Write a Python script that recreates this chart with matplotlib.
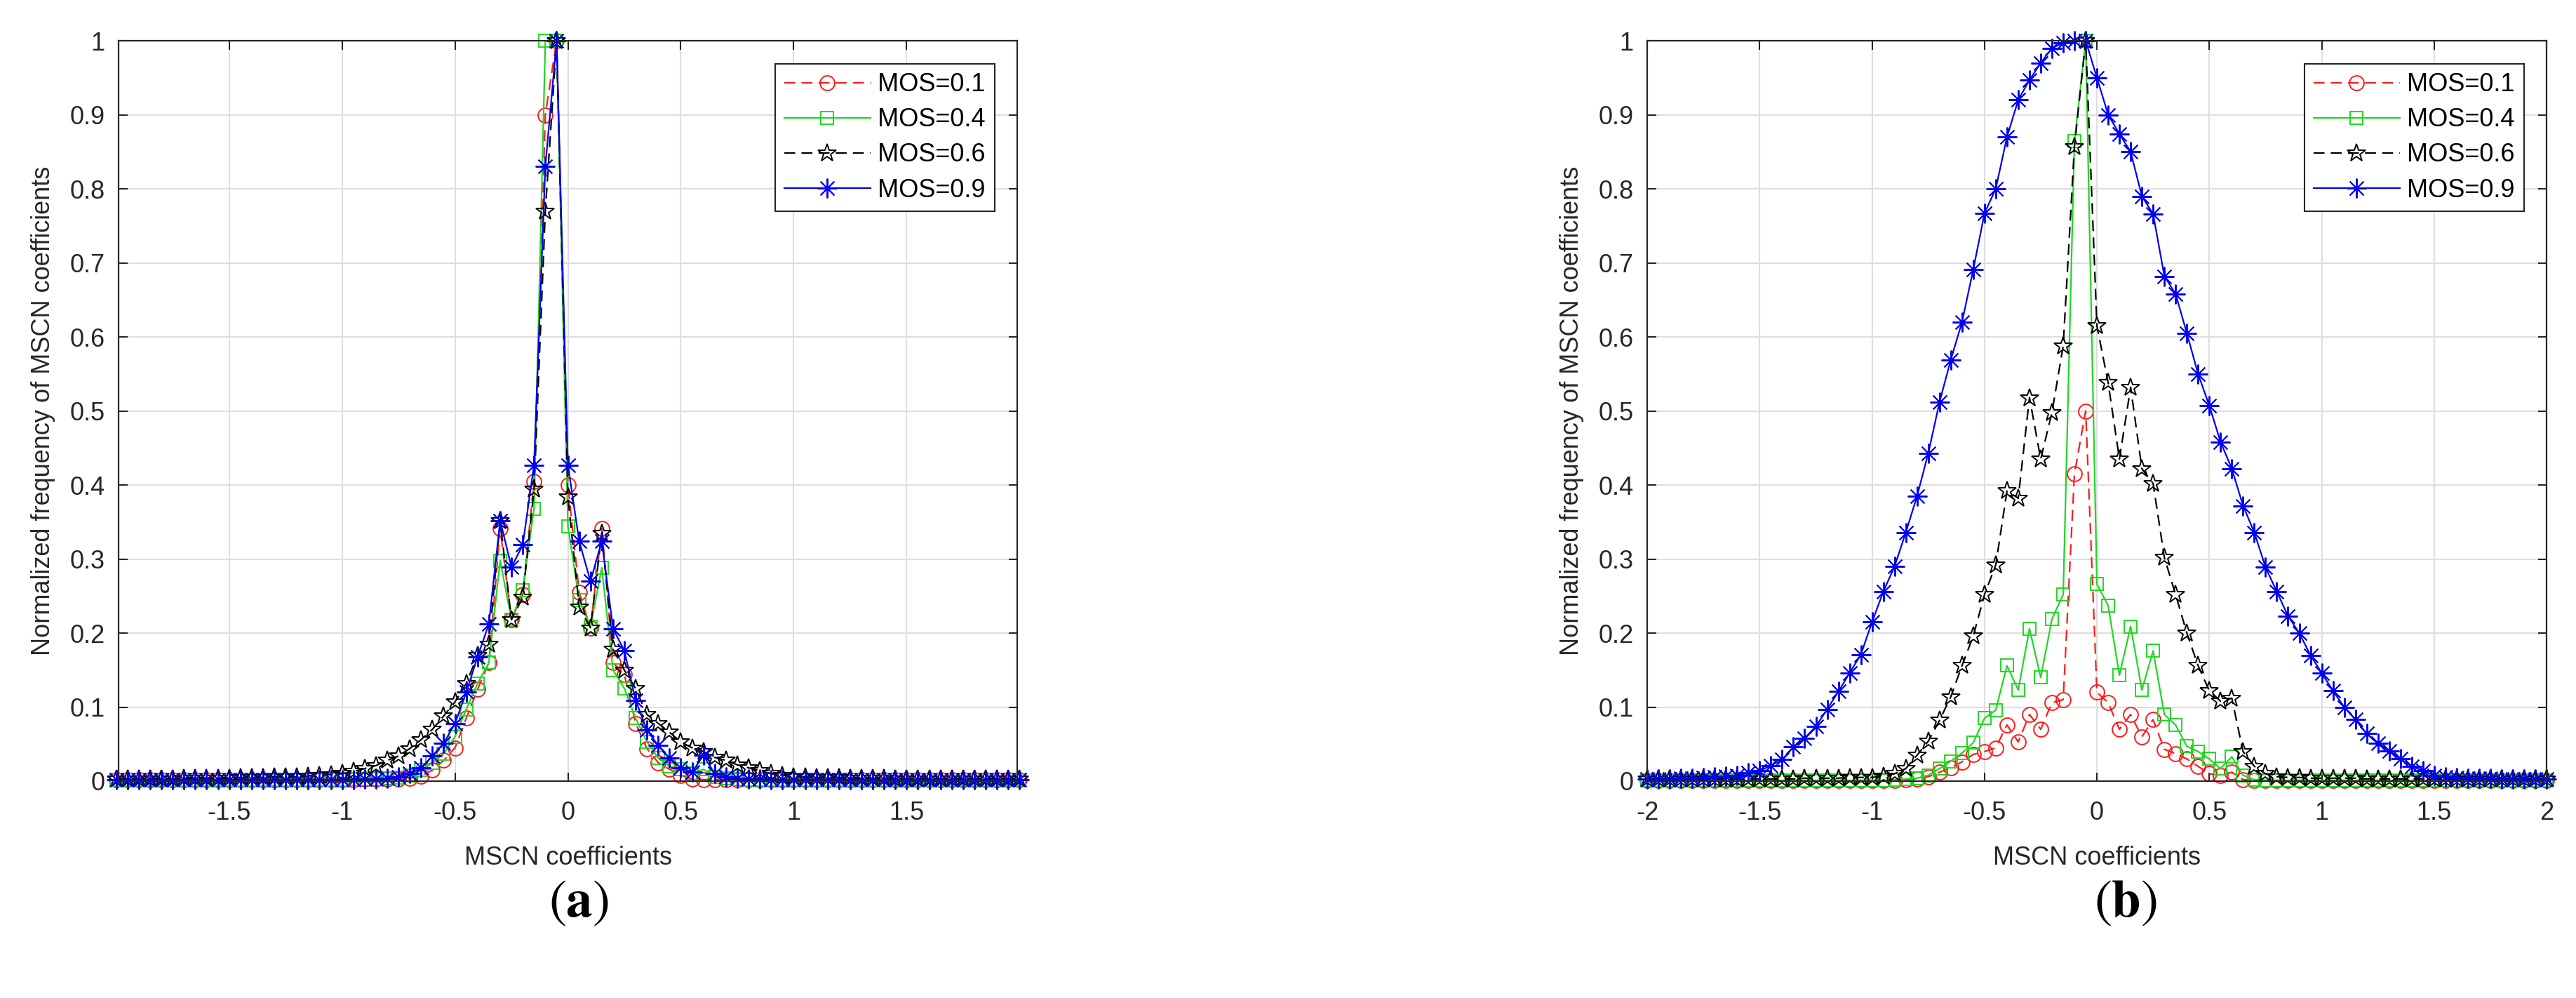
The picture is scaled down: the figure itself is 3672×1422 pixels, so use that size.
import numpy as np
import matplotlib
matplotlib.use("Agg")
import matplotlib.pyplot as plt
from matplotlib.ticker import FormatStrFormatter

plt.rcParams['font.family'] = ['Liberation Sans', 'DejaVu Sans']

# MSCN coefficient bins (-2 .. 2, step 0.05)
mscn = np.linspace(-2, 2, 81)
labels = ['MOS=0.1', 'MOS=0.4', 'MOS=0.6', 'MOS=0.9']

# (a) normalized frequency, one row = 0.5 on the x axis
a_mos01 = [0.002] * 20 + [
    0.002, 0.002, 0.003, 0.003, 0.003, 0.003, 0.004, 0.007, 0.015, 0.028,
    0.045, 0.085, 0.124, 0.16, 0.341, 0.218, 0.252, 0.405, 0.90, 1.0,
    0.40, 0.255, 0.207, 0.341, 0.16, 0.144, 0.078, 0.044, 0.025, 0.016,
    0.008, 0.003, 0.002, 0.002, 0.002, 0.002, 0.002, 0.002, 0.002, 0.002] + [0.002] * 21
a_mos04 = [0.002] * 20 + [
    0.002, 0.003, 0.003, 0.003, 0.004, 0.005, 0.008, 0.015, 0.025, 0.037,
    0.06, 0.097, 0.132, 0.16, 0.298, 0.218, 0.258, 0.368, 1.0, 1.0,
    0.344, 0.245, 0.209, 0.288, 0.15, 0.125, 0.085, 0.053, 0.031, 0.02,
    0.016, 0.01, 0.016, 0.006, 0.004, 0.003, 0.002, 0.002, 0.002, 0.002] + [0.002] * 21
a_mos06 = [
    0.003, 0.003, 0.003, 0.003, 0.003, 0.003, 0.004, 0.004, 0.004, 0.004,
    0.004, 0.005, 0.005, 0.005, 0.006, 0.006, 0.006, 0.007, 0.008, 0.009,
    0.01, 0.013, 0.017, 0.021, 0.028, 0.034, 0.044, 0.056, 0.07, 0.088,
    0.107, 0.132, 0.17, 0.185, 0.352, 0.218, 0.248, 0.394, 0.77, 1.0,
    0.384, 0.235, 0.207, 0.335, 0.178, 0.15, 0.125, 0.09, 0.078, 0.066,
    0.053, 0.045, 0.04, 0.032, 0.028, 0.022, 0.018, 0.014, 0.01, 0.008,
    0.006, 0.006, 0.005, 0.005, 0.005, 0.004, 0.004, 0.004, 0.004, 0.003] + [0.003] * 11
a_mos09 = [0.002] * 20 + [
    0.002, 0.002, 0.003, 0.003, 0.004, 0.006, 0.01, 0.018, 0.034, 0.051,
    0.078, 0.12, 0.168, 0.212, 0.352, 0.289, 0.319, 0.427, 0.83, 1.0,
    0.427, 0.324, 0.27, 0.324, 0.206, 0.176, 0.109, 0.069, 0.048, 0.031,
    0.018, 0.012, 0.035, 0.01, 0.006, 0.004, 0.003, 0.003, 0.002, 0.002] + [0.002] * 21

# (b)
b_mos01 = [0.001] * 20 + [
    0.001, 0.001, 0.001, 0.002, 0.003, 0.006, 0.012, 0.018, 0.026, 0.036,
    0.04, 0.045, 0.076, 0.053, 0.09, 0.07, 0.106, 0.11, 0.415, 0.50,
    0.12, 0.106, 0.07, 0.09, 0.06, 0.083, 0.043, 0.037, 0.03, 0.02,
    0.01, 0.008, 0.012, 0.002, 0.001, 0.001, 0.001, 0.001, 0.001, 0.001] + [0.001] * 21
b_mos04 = [0.001] * 20 + [
    0.001, 0.001, 0.002, 0.003, 0.004, 0.008, 0.017, 0.027, 0.038, 0.052,
    0.085, 0.096, 0.156, 0.123, 0.206, 0.14, 0.219, 0.252, 0.864, 1.0,
    0.266, 0.237, 0.143, 0.209, 0.123, 0.176, 0.09, 0.076, 0.047, 0.04,
    0.03, 0.017, 0.033, 0.008, 0.002, 0.001, 0.001, 0.001, 0.001, 0.001] + [0.001] * 21
b_mos06 = [
    0.003, 0.003, 0.003, 0.003, 0.003, 0.003, 0.003, 0.003, 0.003, 0.003,
    0.003, 0.003, 0.003, 0.003, 0.004, 0.004, 0.004, 0.004, 0.005, 0.005,
    0.005, 0.007, 0.01, 0.017, 0.035, 0.054, 0.082, 0.114, 0.156, 0.196,
    0.252, 0.292, 0.392, 0.382, 0.518, 0.435, 0.498, 0.588, 0.857, 1.0,
    0.615, 0.538, 0.435, 0.532, 0.422, 0.402, 0.302, 0.252, 0.2, 0.156,
    0.122, 0.108, 0.112, 0.04, 0.02, 0.01, 0.006, 0.005, 0.005, 0.004,
    0.004, 0.004, 0.004, 0.004, 0.003, 0.003, 0.003, 0.003, 0.003, 0.003] + [0.003] * 11
b_mos09 = [
    0.003, 0.003, 0.003, 0.004, 0.004, 0.005, 0.006, 0.007, 0.008, 0.011,
    0.014, 0.021, 0.029, 0.046, 0.058, 0.074, 0.097, 0.121, 0.146, 0.171,
    0.215, 0.256, 0.29, 0.336, 0.385, 0.443, 0.512, 0.569, 0.62, 0.691,
    0.767, 0.80, 0.87, 0.92, 0.947, 0.97, 0.99, 0.997, 1.0, 1.0,
    0.95, 0.90, 0.874, 0.85, 0.79, 0.766, 0.682, 0.658, 0.605, 0.55,
    0.507, 0.458, 0.422, 0.372, 0.336, 0.289, 0.256, 0.223, 0.2, 0.17,
    0.146, 0.122, 0.1, 0.083, 0.064, 0.051, 0.041, 0.03, 0.02, 0.014,
    0.008, 0.006, 0.005, 0.004, 0.004, 0.004, 0.003, 0.003, 0.003, 0.003,
    0.003]

styles = [
    dict(color='#ff1a1a', ls='--', marker='o', ms=15),
    dict(color='#1fd81f', ls='-', marker='s', ms=13),
    dict(color='#000000', ls='--', marker='*', ms=19),
    dict(color='#0000ee', ls='-', marker=(8, 2, 0), ms=20),
]

fig = plt.figure(figsize=(36.73, 14.22), dpi=100)
ax_a = fig.add_axes([0.0460, 0.2173, 0.3488, 0.7419])
ax_b = fig.add_axes([0.6393, 0.2173, 0.3490, 0.7419])

panels = [
    (ax_a, [a_mos01, a_mos04, a_mos06, a_mos09], (-1.99, 1.99), np.arange(-1.5, 1.51, 0.5)),
    (ax_b, [b_mos01, b_mos04, b_mos06, b_mos09], (-2, 2), np.arange(-2, 2.01, 0.5)),
]

for ax, series, xlim, xticks in panels:
    for y, lab, st in zip(series, labels, styles):
        ax.plot(mscn, y, color=st['color'], ls=st['ls'], lw=1.6,
                marker=st['marker'], ms=st['ms'], mfc='none',
                mec=st['color'], mew=1.4, label=lab, clip_on=False,
                dashes=(7, 4) if st['ls'] == '--' else (None, None))
    ax.set_xlim(*xlim)
    ax.set_ylim(0, 1)
    ax.set_xticks(xticks)
    ax.set_yticks(np.arange(0, 1.01, 0.1))
    ax.xaxis.set_major_formatter(FormatStrFormatter('%g'))
    ax.yaxis.set_major_formatter(FormatStrFormatter('%g'))
    ax.grid(True, color='#dedede', lw=1.5)
    ax.set_axisbelow(True)
    ax.tick_params(direction='in', length=9, width=1.5, top=True, right=True,
                   labelsize=26, colors='#262626')
    ax.tick_params(axis='x', pad=20)
    ax.tick_params(axis='y', pad=14)
    for sp in ax.spines.values():
        sp.set_linewidth(1.6)
        sp.set_color('#262626')
    ax.set_xlabel('MSCN coefficients', fontsize=26, color='#262626', va='center')
    ax.xaxis.set_label_coords(0.5, -0.104)
    ax.set_ylabel('Normalized frequency of MSCN coefficients', fontsize=26,
                  color='#262626', va='center')
    ax.yaxis.set_label_coords(-0.084, 0.5)
    leg = ax.legend(loc='upper right', fontsize=26, handlelength=3.4,
                    handletextpad=0.3, labelspacing=0.42, borderpad=0.35,
                    borderaxespad=0.9, fancybox=False, framealpha=1,
                    edgecolor='#262626')
    leg.get_frame().set_linewidth(1.5)

fig.text(825 / 3673, 1 - 1288 / 1422, r'($\mathbf{a}$)', fontsize=54,
         family='STIXGeneral', math_fontfamily='stix', ha='center', va='center')
fig.text(3030 / 3673, 1 - 1288 / 1422, r'($\mathbf{b}$)', fontsize=54,
         family='STIXGeneral', math_fontfamily='stix', ha='center', va='center')

fig.savefig('out.png', dpi=100, facecolor='white')
